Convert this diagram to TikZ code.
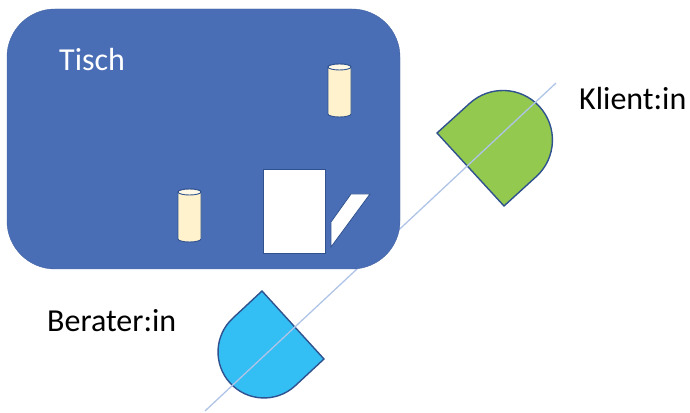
\documentclass[tikz,border=0pt]{standalone}
\usepackage{fontspec}
\usepackage{xcolor}
\setmainfont{Carlito}
\definecolor{TableBlue}{HTML}{4A6EB5}
\definecolor{EdgeBlue}{HTML}{2F528F}
\definecolor{SightBlue}{HTML}{AFC4E6}
\definecolor{CupCream}{HTML}{FFF2CC}
\definecolor{ClientGreen}{HTML}{92C94E}
\definecolor{AdvisorBlue}{HTML}{33BEF4}

\begin{document}
\begin{tikzpicture}[
      x=1pt,
      y=1pt,
      seat/.style={draw=EdgeBlue,line width=1.4pt,line join=miter},
      tablebox/.style={draw=TableBlue!90!black,fill=TableBlue,rounded corners=48pt,minimum width=393pt,minimum height=260pt,inner sep=0pt},
      paper/.style={draw=EdgeBlue,fill=white,line width=0.8pt,minimum width=62pt,minimum height=84pt,inner sep=0pt},
      cup/.style={draw=EdgeBlue,line width=0.9pt,fill=CupCream},
      label/.style={font=\fontsize{32}{36}\selectfont,inner sep=0pt,anchor=base west,text=black}
    ]
      \useasboundingbox (0,0) rectangle (690,412);
      % seats
      \draw[seat,fill=ClientGreen] (437,279) -- (469.5,308.5) arc[start angle=132.5,end angle=-47.5,radius=49.5] -- (504,206) -- cycle;
      \draw[seat,fill=AdvisorBlue] (262,121) -- (233,94) arc[start angle=132.4,end angle=312.4,radius=46] -- (324,53) -- cycle;
      % line of sight
      \coordinate (sightA) at (205,1);
      \coordinate (sightB) at (556,329);
      \draw[SightBlue,line width=1.3pt] (sightA) -- (sightB);
      % table
      \node[tablebox] (tisch) at (203.5,273) {};
      \foreach \cx/\cy in {328/345,178/220}{
        \draw[cup] (\cx,\cy) -- (\cx,\cy-47) arc[start angle=180,end angle=360,x radius=11.5,y radius=3] -- (\cx+23,\cy) arc[start angle=0,end angle=180,x radius=11.5,y radius=3] -- cycle;
        \draw[cup,fill=CupCream!50!white] (\cx+11.5,\cy) ellipse[x radius=11.5,y radius=3];
      }
      \node[paper] (sheet) at (294,201) {};
      \draw[draw=EdgeBlue,fill=white,line width=0.8pt] (351,218) -- (370,218) -- (331,165) -- (331,190) -- cycle;
      % labels
      \node[label,text=white] (tischLabel) at (59,341) {Tisch};
      \node[label] (klientLabel) at (579,302) {Klient:in};
      \node[label] (beraterLabel) at (47,80) {Berater:in};
    \end{tikzpicture}
\end{document}
